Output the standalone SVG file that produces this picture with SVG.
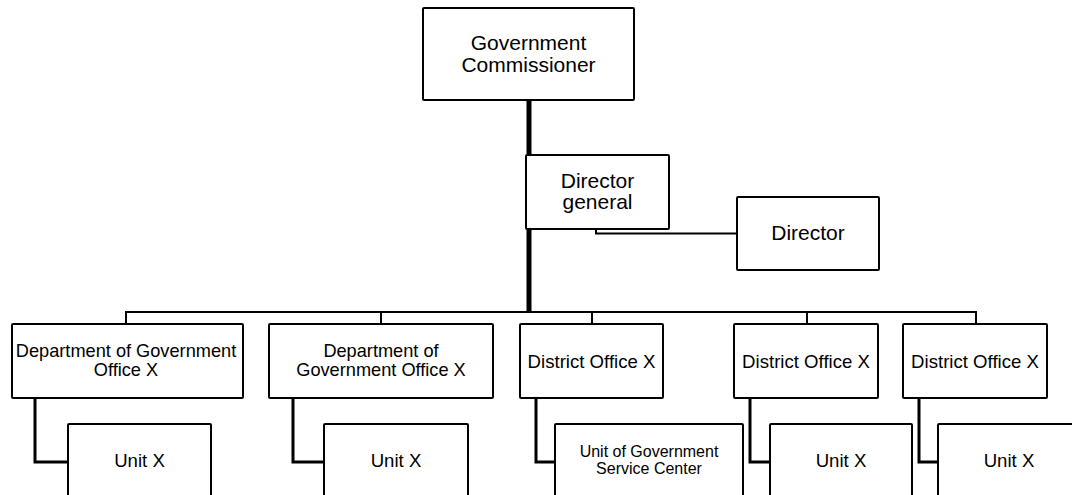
<svg xmlns="http://www.w3.org/2000/svg" width="1072" height="495" viewBox="0 0 1072 495">
  <style>
    .box { fill: #ffffff; stroke: #000000; stroke-width: 2; }
    .lbl { font-family: "Liberation Sans", Arial, sans-serif; fill: #000000; text-anchor: middle; }
    .big { font-size: 21px; }
    .mid { font-size: 18.6px; }
    .two { font-size: 18.2px; }
    .small { font-size: 16px; }
    .trunk { fill: none; stroke: #000000; stroke-width: 5; }
    .bus { fill: none; stroke: #000000; stroke-width: 2; }
    .sub { fill: none; stroke: #000000; stroke-width: 3; }
  </style>
  <rect width="1072" height="495" fill="#ffffff"/>

  <!-- connectors -->
  <g id="connectors">
    <path class="trunk" d="M529,100 V312"/>
    <path class="bus" d="M596,229 V233.5 H737"/>
    <path class="bus" d="M126,324 V312 H976 V324"/>
    <path class="bus" d="M381,312 V324"/>
    <path class="bus" d="M592,312 V324"/>
    <path class="bus" d="M807,312 V324"/>
    <path class="sub" d="M35,398 V462 H68"/>
    <path class="sub" d="M293,398 V462 H324"/>
    <path class="sub" d="M536,398 V462 H555"/>
    <path class="sub" d="M750,398 V462 H770"/>
    <path class="sub" d="M919,398 V462 H938"/>
  </g>

  <g id="commissioner">
    <rect class="box" x="423" y="8" width="211" height="92" rx="1"/>
    <text class="lbl big" x="528.5" y="50">Government</text>
    <text class="lbl big" x="528.5" y="71.5">Commissioner</text>
  </g>

  <g id="director-general">
    <rect class="box" x="526" y="155" width="143" height="74" rx="1"/>
    <text class="lbl big" x="597.5" y="188">Director</text>
    <text class="lbl big" x="597.5" y="209">general</text>
  </g>

  <g id="director">
    <rect class="box" x="737" y="197" width="142" height="73" rx="1"/>
    <text class="lbl big" x="808" y="240">Director</text>
  </g>

  <g id="dept-1">
    <rect class="box" x="12" y="324" width="231" height="74" rx="1"/>
    <text class="lbl two" x="126" y="357">Department of Government</text>
    <text class="lbl two" x="126" y="376">Office X</text>
  </g>

  <g id="dept-2">
    <rect class="box" x="269" y="324" width="224" height="74" rx="1"/>
    <text class="lbl two" x="381" y="357">Department of</text>
    <text class="lbl two" x="381" y="376">Government Office X</text>
  </g>

  <g id="district-1">
    <rect class="box" x="520" y="324" width="143" height="74" rx="1"/>
    <text class="lbl mid" x="591.5" y="367.5">District Office X</text>
  </g>

  <g id="district-2">
    <rect class="box" x="734" y="324" width="144" height="74" rx="1"/>
    <text class="lbl mid" x="806" y="367.5">District Office X</text>
  </g>

  <g id="district-3">
    <rect class="box" x="903" y="324" width="144" height="74" rx="1"/>
    <text class="lbl mid" x="975" y="367.5">District Office X</text>
  </g>

  <g id="unit-1">
    <rect class="box" x="68" y="424" width="143" height="90" rx="1"/>
    <text class="lbl mid" x="139.5" y="466.5">Unit X</text>
  </g>

  <g id="unit-2">
    <rect class="box" x="324" y="424" width="144" height="90" rx="1"/>
    <text class="lbl mid" x="396" y="466.5">Unit X</text>
  </g>

  <g id="unit-service-center">
    <rect class="box" x="555" y="424" width="188" height="90" rx="1"/>
    <text class="lbl small" x="649" y="457">Unit of Government</text>
    <text class="lbl small" x="649" y="474">Service Center</text>
  </g>

  <g id="unit-3">
    <rect class="box" x="770" y="424" width="142" height="90" rx="1"/>
    <text class="lbl mid" x="841" y="466.5">Unit X</text>
  </g>

  <g id="unit-4">
    <rect class="box" x="938" y="424" width="150" height="90" rx="1"/>
    <text class="lbl mid" x="1009" y="466.5">Unit X</text>
  </g>
</svg>
